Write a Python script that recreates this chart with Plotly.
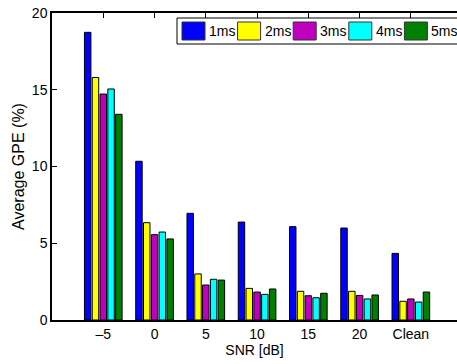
import plotly.graph_objects as go

categories = ["–5", "0", "5", "10", "15", "20", "Clean"]
series_names = ["1ms", "2ms", "3ms", "4ms", "5ms"]
values_1ms = [18.74, 10.34, 6.95, 6.38, 6.08, 5.99, 4.34]
values_2ms = [15.8, 6.34, 3.0, 2.06, 1.87, 1.87, 1.22]
values_3ms = [14.72, 5.56, 2.28, 1.82, 1.58, 1.6, 1.37]
values_4ms = [15.05, 5.73, 2.65, 1.67, 1.45, 1.37, 1.17]
values_5ms = [13.4, 5.28, 2.6, 2.02, 1.74, 1.63, 1.82]
colors = ["#0000FF", "#FFFF00", "#BF00BF", "#00FFFF", "#008000"]
y_ticks = [0, 5, 10, 15, 20]

all_values = [values_1ms, values_2ms, values_3ms, values_4ms, values_5ms]
xpos = list(range(1, len(categories) + 1))

W, H = 457, 364
L, T, B = 52, 13, 44
plot_w = W - L
plot_h = H - T - B

FONT = "Liberation Sans, Arial, sans-serif"

fig = go.Figure()
for name, vals, col in zip(series_names, all_values, colors):
    fig.add_trace(go.Bar(
        x=xpos, y=vals, name=name,
        marker=dict(color=col, line=dict(color="black", width=1)),
        showlegend=False,
    ))

def px_x(p):
    return (p - L) / plot_w

def px_y(p):
    return (H - B - p) / plot_h

shapes = []
annotations = []
# custom legend box
shapes.append(dict(type="rect", xref="paper", yref="paper",
                   x0=px_x(177), x1=px_x(462), y0=px_y(44), y1=px_y(18),
                   fillcolor="white", line=dict(color="black", width=1), layer="above"))
start = 182
pitch = 55.6
for i, (name, col) in enumerate(zip(series_names, colors)):
    sx = start + i * pitch
    shapes.append(dict(type="rect", xref="paper", yref="paper",
                       x0=px_x(sx), x1=px_x(sx + 23), y0=px_y(40), y1=px_y(22),
                       fillcolor=col, line=dict(color="#333333", width=1), layer="above"))
    annotations.append(dict(xref="paper", yref="paper", x=px_x(sx + 25), y=px_y(31),
                            text=name, showarrow=False, xanchor="left", yanchor="middle",
                            font=dict(family=FONT, size=14, color="black")))

fig.update_layout(
    width=W, height=H,
    margin=dict(l=L, r=0, t=T, b=B, pad=0),
    paper_bgcolor="white", plot_bgcolor="white",
    barmode="group", bargap=0.24, bargroupgap=0.17,
    font=dict(family=FONT, size=14, color="black"),
    shapes=shapes, annotations=annotations,
    xaxis=dict(
        range=[0, 7.9], tickmode="array", tickvals=xpos, ticktext=categories,
        ticks="inside", ticklen=5, tickcolor="black", tickwidth=1,
        showline=True, linecolor="black", linewidth=1.5, mirror="ticks",
        showgrid=False, zeroline=False, layer="below traces",
        tickfont=dict(family=FONT, size=14, color="black"),
        title=dict(text="SNR [dB]", standoff=2, font=dict(family=FONT, size=14, color="black")),
    ),
    yaxis=dict(
        range=[0, 20], tickmode="array", tickvals=y_ticks,
        ticks="inside", ticklen=5, tickcolor="black", tickwidth=1,
        showline=True, linecolor="black", linewidth=1.5,
        showgrid=False, zeroline=False, layer="below traces",
        tickfont=dict(family=FONT, size=14, color="black"),
        title=dict(text="Average GPE (%)", standoff=3, font=dict(family=FONT, size=16, color="black")),
    ),
)

fig.write_html("out.html")
